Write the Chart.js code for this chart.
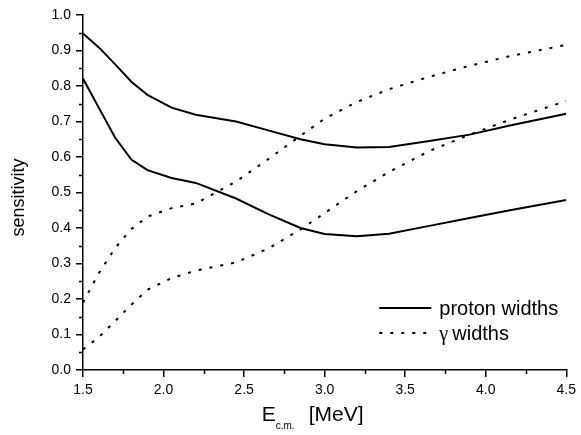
<!DOCTYPE html>
<html>
<head>
<meta charset="utf-8">
<script src="https://cdn.jsdelivr.net/npm/chart.js@4"></script>
<style>
  html, body { margin: 0; padding: 0; background: #fff; }
  canvas { display: block; }
</style>
</head>
<body>
<canvas id="chart" width="581" height="435"></canvas>
<script>
const FONT = "'Liberation Sans', Arial, Helvetica, sans-serif";

// centre-of-mass energy grid (MeV)
const energies = [1.5, 1.6, 1.7, 1.8, 1.9, 2.05, 2.2, 2.45, 2.65, 2.85, 3.0, 3.2, 3.4, 3.65, 3.9, 4.15, 4.5];

// sensitivity to proton widths
const protonUpper = [0.948, 0.908, 0.861, 0.812, 0.775, 0.739, 0.719, 0.700, 0.675, 0.650, 0.636, 0.627, 0.628, 0.645, 0.663, 0.689, 0.722];
const protonLower = [0.821, 0.737, 0.654, 0.593, 0.563, 0.541, 0.527, 0.483, 0.439, 0.400, 0.383, 0.377, 0.384, 0.406, 0.428, 0.450, 0.479];

// sensitivity to gamma widths
const gammaUpper = [0.190, 0.274, 0.344, 0.397, 0.432, 0.456, 0.469, 0.531, 0.594, 0.660, 0.708, 0.755, 0.791, 0.826, 0.857, 0.884, 0.916];
const gammaLower = [0.058, 0.093, 0.138, 0.184, 0.226, 0.259, 0.280, 0.303, 0.342, 0.396, 0.442, 0.504, 0.558, 0.617, 0.663, 0.705, 0.758];

const xMinorTicks = [1.75, 2.25, 2.75, 3.25, 3.75, 4.25];
const yMinorTicks = [0.05, 0.15, 0.25, 0.35, 0.45, 0.55, 0.65, 0.75, 0.85, 0.95];

const legendItems = [
    { label: 'proton widths', dash: [] },
    { label: 'widths', symbol: 'γ', dash: [3, 8] }
];

const toPoints = values => values.map((v, i) => ({ x: energies[i], y: v }));

function curve(values, dash) {
    return {
        data: toPoints(values),
        borderColor: '#000',
        borderWidth: 2,
        borderDash: dash,
        borderCapStyle: 'butt',
        pointRadius: 0,
        fill: false,
        tension: 0
    };
}

const minorTicks = {
    id: 'minorTicks',
    afterDraw(chart) {
        const { ctx, chartArea, scales: { x, y } } = chart;
        ctx.save();
        ctx.strokeStyle = '#000';
        ctx.lineWidth = 1.5;
        ctx.beginPath();
        xMinorTicks.forEach(v => {
            const px = Math.round(x.getPixelForValue(v)) + 0.5;
            ctx.moveTo(px, chartArea.bottom);
            ctx.lineTo(px, chartArea.bottom + 4);
        });
        yMinorTicks.forEach(v => {
            const py = Math.round(y.getPixelForValue(v)) + 0.5;
            ctx.moveTo(chartArea.left, py);
            ctx.lineTo(chartArea.left - 4, py);
        });
        ctx.stroke();
        ctx.restore();
    }
};

// axis titles with subscript, drawn by hand
const axisTitles = {
    id: 'axisTitles',
    afterDraw(chart) {
        const { ctx, chartArea } = chart;
        const cx = (chartArea.left + chartArea.right) / 2;
        ctx.save();
        ctx.fillStyle = '#000';
        ctx.textAlign = 'left';
        ctx.textBaseline = 'alphabetic';

        ctx.font = `21px ${FONT}`;
        ctx.fillText('E', cx - 63, 421);
        ctx.font = `10px ${FONT}`;
        ctx.fillText('c.m.', cx - 49, 429);
        ctx.font = `21px ${FONT}`;
        ctx.fillText('[MeV]', cx - 16, 421);

        ctx.translate(24, (chartArea.top + chartArea.bottom) / 2 + 5);
        ctx.rotate(-Math.PI / 2);
        ctx.textAlign = 'center';
        ctx.font = `18px ${FONT}`;
        ctx.fillText('sensitivity', 0, 0);
        ctx.restore();
    }
};

const lineLegend = {
    id: 'lineLegend',
    afterDraw(chart) {
        const { ctx, chartArea } = chart;
        const x0 = chartArea.right - 187;
        ctx.save();
        ctx.strokeStyle = '#000';
        ctx.fillStyle = '#000';
        ctx.lineWidth = 2;
        ctx.textBaseline = 'alphabetic';
        legendItems.forEach((item, i) => {
            const yLine = chartArea.bottom - 62 + i * 25;
            ctx.setLineDash(item.dash);
            ctx.beginPath();
            ctx.moveTo(x0, yLine);
            ctx.lineTo(x0 + 52, yLine);
            ctx.stroke();
            let tx = x0 + 60;
            if (item.symbol) {
                ctx.font = `20px 'Liberation Serif', 'Times New Roman', serif`;
                ctx.fillText(item.symbol, tx, yLine + 7);
                tx += 13;
            }
            ctx.font = `20px ${FONT}`;
            ctx.fillText(item.label, tx, yLine + 7);
        });
        ctx.restore();
    }
};

const axisStyle = {
    grid: { drawOnChartArea: false, drawTicks: true, tickLength: 7, color: '#000', lineWidth: 1.5 },
    border: { display: true, color: '#000', width: 1.5 },
    title: { display: false }
};

new Chart(document.getElementById('chart').getContext('2d'), {
    type: 'line',
    data: {
        datasets: [
            curve(protonUpper, []),
            curve(protonLower, []),
            curve(gammaUpper, [3, 8]),
            curve(gammaLower, [3, 8])
        ]
    },
    options: {
        responsive: false,
        animation: false,
        devicePixelRatio: 1,
        layout: { padding: { top: 15, right: 12, left: 0, bottom: 0 } },
        plugins: { legend: { display: false }, tooltip: { enabled: false } },
        scales: {
            x: {
                ...axisStyle,
                type: 'linear',
                min: 1.5,
                max: 4.5,
                ticks: {
                    stepSize: 0.5,
                    maxRotation: 0,
                    padding: 5,
                    color: '#000',
                    font: { family: FONT, size: 14 },
                    callback: v => v.toFixed(1)
                },
                afterFit(scale) { scale.height = 65; }
            },
            y: {
                ...axisStyle,
                min: 0,
                max: 1,
                ticks: {
                    stepSize: 0.1,
                    padding: 5,
                    color: '#000',
                    font: { family: FONT, size: 14 },
                    callback: v => v.toFixed(1)
                },
                afterFit(scale) { scale.width = 83; }
            }
        }
    },
    plugins: [minorTicks, axisTitles, lineLegend]
});
</script>
</body>
</html>
